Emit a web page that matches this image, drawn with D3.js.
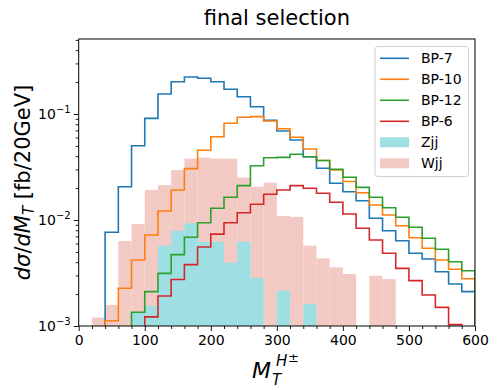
<!DOCTYPE html>
<html>
<head>
<meta charset="utf-8">
<script src="https://cdn.jsdelivr.net/npm/d3@7"></script>
<style>
  body { margin: 0; background: #fff; }
  text { font-family: "DejaVu Sans", sans-serif; fill: #000; }
</style>
</head>
<body>
<svg width="498" height="390"></svg>
<script>
// bins of 20 GeV from 0 to 600
const binEdges = d3.range(0, 601, 20);

const bp7 = [0, 0, 0.00766, 0.0206, 0.0502, 0.091, 0.1545, 0.2018, 0.2234, 0.2172,
  0.2018, 0.171, 0.1455, 0.1172, 0.0873, 0.0692, 0.0569, 0.0395, 0.0308, 0.0222,
  0.0185, 0.0152, 0.0104, 0.00793, 0.00638, 0.00485, 0.00429, 0.00325, 0.00249, 0.00211];
const bp10 = [0, 0, 0.00112, 0.00227, 0.00419, 0.00722, 0.01216, 0.0192, 0.0305, 0.0455,
  0.0611, 0.0817, 0.0931, 0.0944, 0.0859, 0.0727, 0.0603, 0.0468, 0.0364, 0.0296,
  0.0231, 0.0181, 0.01386, 0.01115, 0.00883, 0.00681, 0.00541, 0.00419, 0.00343, 0.00279];
const bp12 = [0, 0, 0, 0, 0.00135, 0.00211, 0.00314, 0.00471, 0.00687, 0.00943,
  0.0129, 0.01637, 0.0211, 0.0325, 0.0387, 0.039, 0.0417, 0.0395, 0.0364, 0.0301,
  0.0253, 0.0203, 0.01637, 0.01306, 0.0106, 0.00853, 0.00672, 0.00529, 0.00404, 0.00332];
const bp6 = [0, 0, 0, 0, 0, 0.00122, 0.00192, 0.00275, 0.00379, 0.00556,
  0.00735, 0.00943, 0.01172, 0.01406, 0.01747, 0.0192, 0.0211, 0.0199, 0.01786, 0.01469,
  0.0114, 0.00835, 0.00648, 0.00485, 0.0035, 0.00268, 0.00196, 0.0015, 0.00103, 0];
const zjj = [0, 0, 0, 0, 0.00136, 0.00155, 0.00572, 0.00793, 0.0093, 0.00624,
  0.00624, 0.00396, 0.00624, 0.00284, 0, 0.00215, 0, 0.00161, 0, 0,
  0, 0, 0, 0, 0, 0, 0, 0, 0, 0];
const wjj = [0, 0.0012, 0.00158, 0.00634, 0.00917, 0.0192, 0.0213, 0.0296, 0.0379, 0.0387,
  0.0379, 0.0379, 0.0251, 0.0206, 0.0225, 0.0109, 0.0107, 0.00572, 0.00435, 0.00358,
  0.00309, 0, 0.00298, 0.00277, 0, 0, 0, 0, 0, 0];

const lineSeries = [
  { name: "BP-7", values: bp7, color: "#1f77b4" },
  { name: "BP-10", values: bp10, color: "#ff7f0e" },
  { name: "BP-12", values: bp12, color: "#2ca02c" },
  { name: "BP-6", values: bp6, color: "#d62728" }
];
const fillSeries = [
  { name: "Wjj", values: wjj, color: "#f2cac3" },
  { name: "Zjj", values: zjj, color: "#9edfe4" }
];
const legendOrder = ["BP-7", "BP-10", "BP-12", "BP-6", "Zjj", "Wjj"];

const yMajor = [1e-3, 1e-2, 1e-1];
const yMajorLabels = ["\u22123", "\u22122", "\u22121"];
const xMajor = [0, 100, 200, 300, 400, 500, 600];

const plotLeft = 78.7, plotRight = 475, plotTop = 39, plotBottom = 326;
const floorVal = 1e-5;

const xScale = d3.scaleLinear().domain([0, 600]).range([plotLeft, plotRight]);
const yScale = d3.scaleLog().domain([1e-3, 0.51]).range([plotBottom, plotTop]);

const svg = d3.select("svg");

svg.append("clipPath").attr("id", "plot-clip")
  .append("rect")
  .attr("x", plotLeft).attr("y", plotTop)
  .attr("width", plotRight - plotLeft).attr("height", plotBottom - plotTop);

const plot = svg.append("g").attr("clip-path", "url(#plot-clip)");

// fills (Wjj under Zjj)
fillSeries.forEach(s => {
  plot.append("g").selectAll("rect")
    .data(s.values.map((v, i) => ({ v, lo: binEdges[i], hi: binEdges[i + 1] })).filter(d => d.v > 0))
    .enter()
    .append("rect")
    .attr("x", d => xScale(d.lo))
    .attr("y", d => yScale(d.v))
    .attr("width", d => xScale(d.hi) - xScale(d.lo))
    .attr("height", d => plotBottom - yScale(d.v) + 2)
    .attr("fill", s.color);
});

// step histograms
const line = d3.line().x(d => xScale(d[0])).y(d => yScale(d[1]));
lineSeries.forEach(s => {
  const pts = [[binEdges[0], floorVal]];
  s.values.forEach((v, i) => {
    const val = v > 0 ? v : floorVal;
    pts.push([binEdges[i], val]);
    pts.push([binEdges[i + 1], val]);
  });
  pts.push([binEdges[binEdges.length - 1], floorVal]);
  plot.append("path")
    .attr("d", line(pts))
    .attr("fill", "none")
    .attr("stroke", s.color)
    .attr("stroke-width", 1.6)
    .attr("stroke-linejoin", "miter");
});

// x axis
const xAxisGroup = svg.append("g").attr("transform", `translate(0, ${plotBottom})`);
xAxisGroup.call(d3.axisBottom(xScale).tickValues(xMajor).tickSize(5).tickPadding(4).tickFormat(d3.format("d")));
const xMinor = svg.append("g").attr("transform", `translate(0, ${plotBottom})`);
xMinor.call(d3.axisBottom(xScale).tickValues(binEdges.filter(e => e % 100 !== 0)).tickSize(3).tickFormat(""));

// y axis
const yAxisGroup = svg.append("g").attr("transform", `translate(${plotLeft}, 0)`);
yAxisGroup.call(d3.axisLeft(yScale).tickValues(yMajor).tickSize(5).tickFormat(""));
const yMinorVals = [];
[1e-3, 1e-2, 1e-1].forEach(d => { for (let k = 2; k <= 9; k++) if (d * k <= 0.51) yMinorVals.push(d * k); });
const yMinor = svg.append("g").attr("transform", `translate(${plotLeft}, 0)`);
yMinor.call(d3.axisLeft(yScale).tickValues(yMinorVals).tickSize(3).tickFormat(""));

[xAxisGroup, xMinor, yAxisGroup, yMinor].forEach(g => g.select(".domain").remove());
svg.selectAll(".tick line").attr("stroke", "#000").attr("stroke-width", 0.9);
xAxisGroup.selectAll("text").attr("font-size", 14).attr("font-family", "DejaVu Sans").attr("fill", "#000");

// y tick labels 10^n
yMajor.forEach((v, i) => {
  const t = svg.append("text")
    .attr("x", plotLeft - 8)
    .attr("y", yScale(v) + 5)
    .attr("text-anchor", "end")
    .attr("font-size", 14);
  t.append("tspan").text("10");
  t.append("tspan").attr("dy", -6).attr("font-size", 10).text(yMajorLabels[i]);
});

// frame
svg.append("rect")
  .attr("x", plotLeft).attr("y", plotTop)
  .attr("width", plotRight - plotLeft).attr("height", plotBottom - plotTop)
  .attr("fill", "none").attr("stroke", "#000").attr("stroke-width", 1);

// title
svg.append("text")
  .attr("x", (plotLeft + plotRight) / 2).attr("y", 25)
  .attr("text-anchor", "middle").attr("font-size", 21)
  .text("final selection");

// x label: M_T^{H±}
svg.append("text").attr("x", 252).attr("y", 378)
  .attr("font-size", 22).attr("font-style", "italic").text("M");
svg.append("text").attr("x", 276).attr("y", 366)
  .attr("font-size", 15).attr("font-style", "italic").text("H");
svg.append("text").attr("x", 288).attr("y", 362)
  .attr("font-size", 13).text("\u00b1");
svg.append("text").attr("x", 272).attr("y", 385)
  .attr("font-size", 15).attr("font-style", "italic").text("T");

// y label
const yl = svg.append("text")
  .attr("transform", `translate(30, ${(plotTop + plotBottom) / 2}) rotate(-90)`)
  .attr("text-anchor", "middle")
  .attr("font-size", 21);
yl.append("tspan").attr("font-style", "italic").text("d\u03c3");
yl.append("tspan").text("/");
yl.append("tspan").attr("font-style", "italic").text("dM");
yl.append("tspan").attr("font-style", "italic").attr("font-size", 15).attr("dy", 4).text("T");
yl.append("tspan").attr("dy", -4).text(" [fb/20GeV]");

// legend
const legend = svg.append("g");
legend.append("rect")
  .attr("x", 375).attr("y", 46.5).attr("width", 93.5).attr("height", 130)
  .attr("rx", 3).attr("fill", "#fff").attr("fill-opacity", 0.8)
  .attr("stroke", "#d0d0d0").attr("stroke-width", 1);
const allSeries = lineSeries.concat(fillSeries);
legendOrder.forEach((name, i) => {
  const s = allSeries.find(d => d.name === name);
  const cy = 58.3 + i * 21;
  if (lineSeries.includes(s)) {
    legend.append("line")
      .attr("x1", 380).attr("x2", 409).attr("y1", cy).attr("y2", cy)
      .attr("stroke", s.color).attr("stroke-width", 1.6);
  } else {
    legend.append("rect")
      .attr("x", 380).attr("y", cy - 5).attr("width", 29).attr("height", 10)
      .attr("fill", s.color);
  }
  legend.append("text")
    .attr("x", 421).attr("y", cy + 5)
    .attr("font-size", 14)
    .text(name);
});
</script>
</body>
</html>
